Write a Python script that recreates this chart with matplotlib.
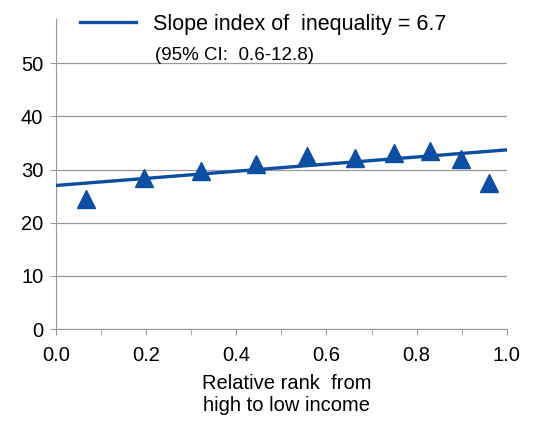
import matplotlib
matplotlib.use('Agg')
import matplotlib.pyplot as plt
import numpy as np

# relative rank (high -> low income) and observed values
rank = [0.066, 0.195, 0.322, 0.443, 0.556, 0.663, 0.749, 0.829, 0.898, 0.960]
values = [24.5, 28.4, 29.8, 31.0, 32.6, 32.2, 33.2, 33.5, 32.0, 27.5]

# fitted slope line
intercept = 27.0
slope = 6.7
legend_label = 'Slope index of  inequality = 6.7'
ci_label = '(95% CI:  0.6-12.8)'

blue = '#0b4ea2'
plt.rcParams['font.family'] = ['Liberation Sans', 'DejaVu Sans']

fig = plt.figure(figsize=(5.37, 4.24), dpi=100)
ax = fig.add_axes([0.104, 0.224, 0.840, 0.731])

fit_x = np.array([0.0, 1.0])
line, = ax.plot(fit_x, intercept + slope * fit_x, color=blue, lw=2.4, zorder=3)
ax.plot(rank, values, linestyle='none', marker='^', ms=13.5, color=blue, zorder=4)

ax.set_xlim(0, 1.0)
ax.set_ylim(0, 58.3)
ax.set_xticks(np.arange(0, 1.01, 0.2))
ax.set_xticks(np.arange(0, 1.01, 0.1), minor=True)
ax.set_yticks([0, 10, 20, 30, 40, 50])
ax.xaxis.set_major_formatter(plt.FuncFormatter(lambda v, _: '{:.1f}'.format(v)))
ax.tick_params(axis='both', labelsize=14.5, colors='#999999', labelcolor='black', length=4)
ax.tick_params(axis='x', which='minor', length=4, colors='#999999')
ax.tick_params(axis='x', pad=8)
ax.tick_params(axis='y', pad=5)

ax.grid(True, axis='y', color='#999999', lw=0.9)
ax.set_axisbelow(True)
for s in ['top', 'right']:
    ax.spines[s].set_visible(False)
for s in ['left', 'bottom']:
    ax.spines[s].set_color('#999999')

ax.set_xlabel('Relative rank  from\nhigh to low income', fontsize=14.5, linespacing=1.2)
ax.xaxis.set_label_coords(0.512, -0.145, transform=ax.transAxes)
ax.xaxis.label.set_va('top')

leg = ax.legend([line], [legend_label], loc='upper left', bbox_to_anchor=(0.035, 1.045),
                frameon=False, fontsize=15.5, handlelength=2.6, handletextpad=0.8,
                borderaxespad=0)
ax.text(0.219, 0.882, ci_label, transform=ax.transAxes, fontsize=13.5, va='center')

fig.savefig('out.png', dpi=100)
